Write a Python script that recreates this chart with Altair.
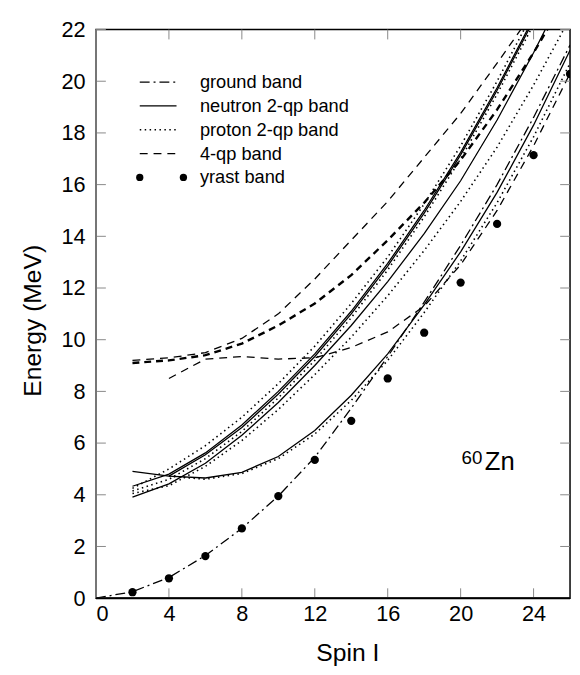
import altair as alt
import pandas as pd

# ---------------- data ----------------
yrast_spin = [2, 4, 6, 8, 10, 12, 14, 16, 18, 20, 22, 24, 26]
yrast_E = [0.23, 0.77, 1.63, 2.70, 3.95, 5.35, 6.86, 8.50, 10.27, 12.21, 14.48, 17.14, 20.28]

ground_spin = [0, 2, 4, 6, 8, 10, 12, 14, 16, 18, 20, 22, 24, 26]
ground_E = [0.0, 0.25, 0.8, 1.65, 2.7, 3.95, 5.45, 7.35, 9.35, 11.45, 13.65, 16.0, 18.6, 21.4]

n1_spin = [2, 4, 6, 8, 10, 12, 14, 16, 18, 20, 22, 24]
n1_E = [4.33, 4.8, 5.62, 6.7, 8.0, 9.45, 11.1, 12.95, 15.0, 17.25, 19.75, 22.45]
n2_spin = [4, 6, 8, 10, 12, 14, 16, 18, 20, 22, 24]
n2_E = [4.72, 5.55, 6.6, 7.9, 9.35, 11.0, 12.85, 14.9, 17.15, 19.65, 22.35]
n3_spin = [2, 4, 6, 8, 10, 12, 14, 16, 18, 20, 22, 24, 26]
n3_E = [3.91, 4.42, 5.22, 6.3, 7.57, 9.0, 10.55, 12.25, 14.1, 16.15, 18.5, 21.1, 23.9]
n4_spin = [2, 4, 6, 8, 10, 12, 14, 16, 18, 20, 22, 24, 26]
n4_E = [4.91, 4.72, 4.65, 4.87, 5.48, 6.49, 7.85, 9.45, 11.35, 13.4, 15.7, 18.3, 21.2]

p1_spin = [2, 4, 6, 8, 10, 12, 14, 16, 18, 20, 22, 24]
p1_E = [4.25, 5.0, 5.9, 7.0, 8.3, 9.75, 11.4, 13.2, 15.25, 17.5, 20.0, 22.7]
p2_spin = [2, 4, 6, 8, 10, 12, 14, 16, 18, 20, 22, 24]
p2_E = [4.15, 4.6, 5.4, 6.45, 7.75, 9.2, 10.85, 12.7, 14.75, 17.0, 19.5, 22.2]
p3_spin = [2, 4, 6, 8, 10, 12, 14, 16, 18, 20, 22, 24, 26]
p3_E = [4.05, 4.35, 5.1, 6.1, 7.3, 8.65, 10.1, 11.7, 13.45, 15.35, 17.45, 19.85, 22.45]
p4_spin = [4, 6, 8, 10, 12, 14, 16, 18, 20, 22, 24, 26]
p4_E = [4.72, 4.6, 4.82, 5.4, 6.35, 7.65, 9.2, 11.05, 13.05, 15.3, 17.85, 20.7]

q1_spin = [2, 4, 6, 8, 10, 12, 14, 16, 18, 20, 22, 24]
q1_E = [9.2, 9.3, 9.5, 10.05, 11.0, 12.35, 13.85, 15.35, 17.05, 18.75, 20.7, 22.7]
q2_spin = [2, 4, 6, 8, 10, 12, 14, 16, 18, 20, 22, 24, 26]
q2_E = [9.1, 9.2, 9.4, 9.85, 10.55, 11.4, 12.5, 13.85, 15.3, 16.95, 18.9, 21.1, 23.5]
q3_spin = [4, 6, 8, 10, 12, 14, 16, 18, 20, 22, 24, 26]
q3_E = [8.5, 9.25, 9.35, 9.25, 9.3, 9.7, 10.3, 11.3, 12.9, 15.0, 17.5, 20.3]

x_ticks = [0, 4, 8, 12, 16, 20, 24]
y_ticks = [0, 2, 4, 6, 8, 10, 12, 14, 16, 18, 20, 22]

legend_labels = ["ground band", "neutron 2-qp band", "proton 2-qp band", "4-qp band", "yrast band"]
nucleus_mass = "60"
nucleus_name = "Zn"

# ---------------- tables ----------------
curves = [
    ("G", "ground", ground_spin, ground_E),
    ("N1", "neutron", n1_spin, n1_E),
    ("N2", "neutron", n2_spin, n2_E),
    ("N3", "neutron", n3_spin, n3_E),
    ("N4", "neutron", n4_spin, n4_E),
    ("P1", "proton", p1_spin, p1_E),
    ("P2", "proton", p2_spin, p2_E),
    ("P3", "proton", p3_spin, p3_E),
    ("P4", "proton", p4_spin, p4_E),
    ("Q1", "4qp", q1_spin, q1_E),
    ("Q2", "4qp_heavy", q2_spin, q2_E),
    ("Q3", "4qp", q3_spin, q3_E),
]
rows = []
for name, band, ss, es in curves:
    for s, e in zip(ss, es):
        rows.append({"curve": name, "band": band, "spin": s, "energy": e})
df = pd.DataFrame(rows)
yrast_df = pd.DataFrame({"spin": yrast_spin, "energy": yrast_E})
xt_df = pd.DataFrame({"spin": x_ticks})
yt_df = pd.DataFrame({"energy": y_ticks})
dummy = pd.DataFrame({"k": [0]})

FONT = "Liberation Sans"
W, H = 481, 577

xs = alt.Scale(domain=[0, 26], nice=False, zero=False)
ys = alt.Scale(domain=[0, 22], nice=False, zero=False)
xaxis = alt.Axis(values=x_ticks, ticks=False, domain=False, grid=False,
                 labelFont=FONT, labelFontSize=22, labelColor="black", labelPadding=6,
                 title="Spin I", titleFont=FONT, titleFontSize=25, titleFontWeight="normal",
                 titleColor="black", titleX=255, titleY=63, titleBaseline="alphabetic")
yaxis = alt.Axis(values=y_ticks, ticks=False, domain=False, grid=False,
                 labelFont=FONT, labelFontSize=22, labelColor="black", labelPadding=11,
                 title="Energy (MeV)", titleFont=FONT, titleFontSize=25, titleFontWeight="normal",
                 titleColor="black", titleX=-56, titleY=295, titleBaseline="alphabetic")
X = alt.X("spin:Q", scale=xs, axis=xaxis)
Y = alt.Y("energy:Q", scale=ys, axis=yaxis)

base = alt.Chart(df)


def band_layer(flt, **kw):
    return base.transform_filter(flt).mark_line(color="black", clip=True, **kw).encode(
        x=X, y=Y, detail="curve:N", order="spin:Q")


DASH_G = [10, 4, 2, 4]
DASH_P = [1.5, 3.5]
DASH_Q = [8, 6]
DASH_QH = [7, 5]

layers = [
    band_layer(alt.datum.band == "ground", strokeDash=DASH_G, strokeWidth=1.3),
    band_layer(alt.datum.band == "neutron", strokeWidth=1.3),
    band_layer(alt.datum.band == "proton", strokeDash=DASH_P, strokeWidth=1.6),
    band_layer(alt.datum.band == "4qp", strokeDash=DASH_Q, strokeWidth=1.3),
    band_layer(alt.datum.band == "4qp_heavy", strokeDash=DASH_QH, strokeWidth=2.4),
    alt.Chart(yrast_df).mark_circle(color="black", opacity=1, size=70, clip=True).encode(x=X, y=Y),
    # inward ticks
    alt.Chart(xt_df).mark_rule(color="#888", strokeWidth=1).encode(x=X, y=alt.value(0), y2=alt.value(10)),
    alt.Chart(xt_df).mark_rule(color="#888", strokeWidth=1).encode(x=X, y=alt.value(H), y2=alt.value(H - 10)),
    alt.Chart(yt_df).mark_rule(color="#888", strokeWidth=1).encode(y=Y, x=alt.value(0), x2=alt.value(10)),
    alt.Chart(yt_df).mark_rule(color="#888", strokeWidth=1).encode(y=Y, x=alt.value(W), x2=alt.value(W - 10)),
    alt.Chart(dummy).mark_rule(color="#777", strokeWidth=2).encode(
        x=alt.value(0), y=alt.value(0), y2=alt.value(H)),
    alt.Chart(dummy).mark_rule(color="black", strokeWidth=2).encode(
        x=alt.value(0), x2=alt.value(W), y=alt.value(H)),
]

# legend
LX0, LX1, LTX, LY0, LDY = 44.4, 81.7, 105.4, 53.3, 24.2
leg_styles = [dict(strokeDash=DASH_G, strokeWidth=1.3), dict(strokeWidth=1.3),
              dict(strokeDash=DASH_P, strokeWidth=1.6), dict(strokeDash=DASH_Q, strokeWidth=1.3)]
for i, lab in enumerate(legend_labels):
    ly = LY0 + LDY * i
    if i < 4:
        layers.append(alt.Chart(dummy).mark_rule(color="black", **leg_styles[i]).encode(
            x=alt.value(LX0), x2=alt.value(LX1), y=alt.value(ly)))
    else:
        for lx in (LX0, 88.7):
            layers.append(alt.Chart(dummy).mark_circle(color="black", opacity=1, size=55).encode(
                x=alt.value(lx), y=alt.value(ly)))
    layers.append(alt.Chart(dummy).mark_text(align="left", baseline="middle", font=FONT,
                                             fontSize=18.5, color="black").encode(
        x=alt.value(LTX), y=alt.value(ly), text=alt.value(lab)))

# nucleus label
layers.append(alt.Chart(dummy).mark_text(align="left", baseline="alphabetic", font=FONT,
                                         fontSize=19, color="black").encode(
    x=alt.value(371), y=alt.value(441), text=alt.value(nucleus_mass)))
layers.append(alt.Chart(dummy).mark_text(align="left", baseline="alphabetic", font=FONT,
                                         fontSize=26, color="black").encode(
    x=alt.value(394.5), y=alt.value(446.7), text=alt.value(nucleus_name)))

chart = alt.layer(*layers).properties(
    width=W, height=H,
    autosize=alt.AutoSizeParams(type="none"),
    padding={"left": 89.3, "top": 17, "right": 2, "bottom": 66},
).configure_view(stroke="black", strokeWidth=1.5).configure_axis(grid=False)

chart.save("out.html", embed_options={"renderer": "svg", "actions": False})
